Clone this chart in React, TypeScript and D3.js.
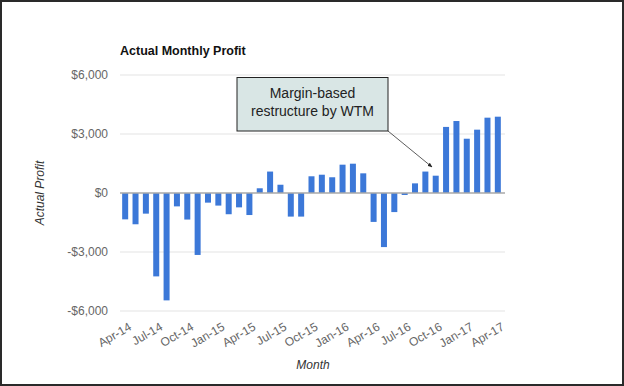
import { useEffect, useRef } from "react"
import * as d3 from "d3"

const months = [
  "Apr-14", "May-14", "Jun-14", "Jul-14", "Aug-14", "Sep-14", "Oct-14", "Nov-14", "Dec-14",
  "Jan-15", "Feb-15", "Mar-15", "Apr-15", "May-15", "Jun-15", "Jul-15", "Aug-15", "Sep-15",
  "Oct-15", "Nov-15", "Dec-15", "Jan-16", "Feb-16", "Mar-16", "Apr-16", "May-16", "Jun-16",
  "Jul-16", "Aug-16", "Sep-16", "Oct-16", "Nov-16", "Dec-16", "Jan-17", "Feb-17", "Mar-17",
  "Apr-17",
]

const profit = [
  -1340, -1590, -1050, -4240, -5460, -680, -1350, -3150, -490,
  -640, -1080, -730, -1120, 240, 1090, 420, -1200, -1200,
  850, 930, 800, 1440, 1490, 1000, -1470, -2750, -970,
  -100, 490, 1090, 880, 3360, 3660, 2760, 3220, 3830,
  3880,
]

const yTicks = [-6000, -3000, 0, 3000, 6000]

const annotationLines = ["Margin-based", "restructure by WTM"]

export default function App() {
  const svgRef = useRef<SVGSVGElement>(null)

  useEffect(() => {
    if (!svgRef.current) return
    const svg = d3.select(svgRef.current)
    svg.selectAll("*").remove()

    const width = 624
    const height = 386
    const left = 120
    const right = 503
    const top = 75
    const bottom = 311

    svg.attr("width", width).attr("height", height)

    svg.append("rect")
      .attr("x", 1).attr("y", 1)
      .attr("width", width - 2).attr("height", height - 2)
      .attr("fill", "#fff")
      .attr("stroke", "#2a2a2a")
      .attr("stroke-width", 2)

    const x = d3.scaleBand<string>()
      .domain(months)
      .range([left, right])
      .paddingInner(0.42)
      .paddingOuter(0.21)

    const y = d3.scaleLinear().domain([-6000, 6000]).range([bottom, top])

    // gridlines
    svg.append("g")
      .selectAll("line")
      .data(yTicks.filter((t) => t !== 0))
      .enter()
      .append("line")
      .attr("x1", left)
      .attr("x2", right + 2)
      .attr("y1", (d) => y(d))
      .attr("y2", (d) => y(d))
      .attr("stroke", "#e3e3e3")
      .attr("stroke-width", 1)

    // y labels
    svg.append("g")
      .selectAll("text")
      .data(yTicks)
      .enter()
      .append("text")
      .attr("x", 108)
      .attr("y", (d) => y(d))
      .attr("dy", "0.35em")
      .attr("text-anchor", "end")
      .style("font-family", "Arial, 'Liberation Sans', sans-serif")
      .style("font-size", "12px")
      .style("fill", "#666")
      .text((d) => (d < 0 ? "-$" : "$") + d3.format(",")(Math.abs(d)))

    // bars
    svg.append("g")
      .selectAll("rect")
      .data(profit)
      .enter()
      .append("rect")
      .attr("x", (_, i) => x(months[i]) ?? 0)
      .attr("width", x.bandwidth())
      .attr("y", (d) => y(Math.max(0, d)))
      .attr("height", (d) => Math.abs(y(d) - y(0)))
      .attr("fill", "#3c78d8")

    // zero baseline
    svg.append("line")
      .attr("x1", left)
      .attr("x2", right + 2)
      .attr("y1", y(0))
      .attr("y2", y(0))
      .attr("stroke", "#a8a8a8")
      .attr("stroke-width", 1.5)

    // x labels, every third month
    svg.append("g")
      .selectAll("text")
      .data(months.filter((_, i) => i % 3 === 0))
      .enter()
      .append("text")
      .attr("transform", (d) => `translate(${(x(d) ?? 0) + x.bandwidth() / 2 + 3},${322}) rotate(-30)`)
      .attr("dy", "0.7em")
      .attr("text-anchor", "end")
      .style("font-family", "Arial, 'Liberation Sans', sans-serif")
      .style("font-size", "12px")
      .style("fill", "#666")
      .text((d) => d)

    // title
    svg.append("text")
      .attr("x", left)
      .attr("y", 55)
      .style("font-family", "Arial, 'Liberation Sans', sans-serif")
      .style("font-size", "12.5px")
      .style("font-weight", "bold")
      .style("fill", "#111")
      .text("Actual Monthly Profit")

    // axis titles
    svg.append("text")
      .attr("transform", `translate(40,${y(0)}) rotate(-90)`)
      .attr("text-anchor", "middle")
      .attr("dy", "0.35em")
      .style("font-family", "Arial, 'Liberation Sans', sans-serif")
      .style("font-size", "12px")
      .style("font-style", "italic")
      .style("fill", "#333")
      .text("Actual Profit")

    svg.append("text")
      .attr("x", 313)
      .attr("y", 369)
      .attr("text-anchor", "middle")
      .style("font-family", "Arial, 'Liberation Sans', sans-serif")
      .style("font-size", "12px")
      .style("font-style", "italic")
      .style("fill", "#333")
      .text("Month")

    // annotation
    const defs = svg.append("defs")
    defs.append("marker")
      .attr("id", "arrowhead")
      .attr("viewBox", "0 0 10 10")
      .attr("refX", 9)
      .attr("refY", 5)
      .attr("markerWidth", 6)
      .attr("markerHeight", 6)
      .attr("orient", "auto")
      .append("path")
      .attr("d", "M0,1 L10,5 L0,9 Z")
      .attr("fill", "#222")

    svg.append("line")
      .attr("x1", 388)
      .attr("y1", 131)
      .attr("x2", 432)
      .attr("y2", 167)
      .attr("stroke", "#333")
      .attr("stroke-width", 0.8)
      .attr("marker-end", "url(#arrowhead)")

    svg.append("rect")
      .attr("x", 237)
      .attr("y", 77.5)
      .attr("width", 151)
      .attr("height", 53.5)
      .attr("fill", "#d9e6e5")
      .attr("stroke", "#222")
      .attr("stroke-width", 1)

    svg.append("g")
      .selectAll("text")
      .data(annotationLines)
      .enter()
      .append("text")
      .attr("x", 312.5)
      .attr("y", (_, i) => 98 + i * 18)
      .attr("text-anchor", "middle")
      .style("font-family", "Arial, 'Liberation Sans', sans-serif")
      .style("font-size", "14px")
      .style("fill", "#222")
      .text((d) => d)
  }, [])

  return (
    <div style={{ position: "absolute", left: 0, top: 0 }}>
      <svg ref={svgRef}></svg>
    </div>
  )
}
